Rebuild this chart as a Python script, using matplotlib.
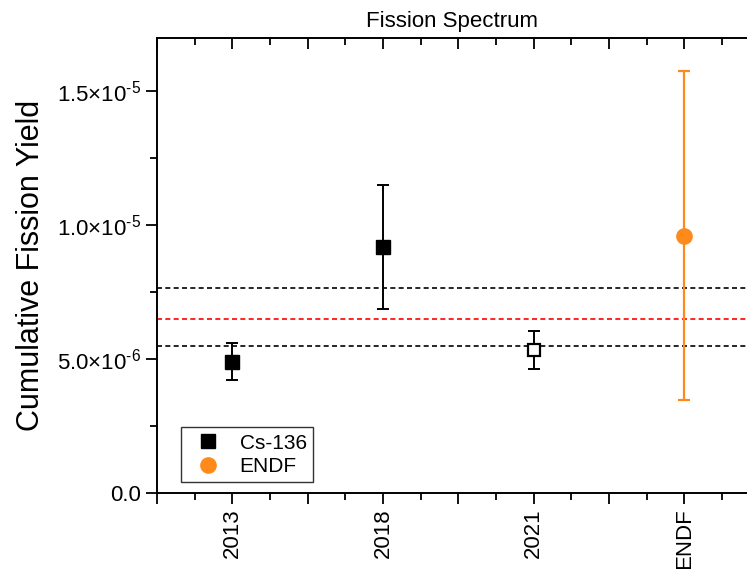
import matplotlib
matplotlib.use("Agg")
import matplotlib.pyplot as plt
from matplotlib.ticker import FuncFormatter, MultipleLocator, FixedLocator

plt.rcParams["font.family"] = ["Liberation Sans", "DejaVu Sans"]
plt.rcParams["mathtext.fontset"] = "custom"
plt.rcParams["mathtext.rm"] = "Liberation Sans"
plt.rcParams["mathtext.it"] = "Liberation Sans:italic"

labels = ["2013", "2018", "2021", "ENDF"]
cs_pos = [1, 2]
cs_vals = [4.90e-6, 9.19e-6]
cs_err = [0.685e-6, 2.32e-6]
open_pos = [3]
open_vals = [5.34e-6]
open_err = [0.705e-6]
endf_pos = [4]
endf_vals = [9.61e-6]
endf_err = [6.15e-6]
mean_line = 6.48e-6
upper_line = 7.65e-6
lower_line = 5.47e-6

orange = "#ff8a1c"

fig = plt.figure(figsize=(7.47, 5.69), dpi=100)
ax = fig.add_axes([0.2102, 0.1344, 0.7885, 0.7988])

dash = (0, (3, 2))
ax.axhline(upper_line, color="black", lw=1.2, ls=dash, zorder=1)
ax.axhline(mean_line, color="red", lw=1.2, ls=dash, zorder=1)
ax.axhline(lower_line, color="black", lw=1.2, ls=dash, zorder=1)

ax.errorbar(cs_pos, cs_vals, yerr=cs_err, fmt="none", ecolor="black",
            elinewidth=1.4, capsize=4.5, capthick=1.4, zorder=2)
ax.plot(cs_pos, cs_vals, "s", ms=10, color="black", label="Cs-136", zorder=3)
ax.errorbar(open_pos, open_vals, yerr=open_err, fmt="none", ecolor="black",
            elinewidth=1.4, capsize=4.5, capthick=1.4, zorder=2)
ax.plot(open_pos, open_vals, "s", ms=8.5, mfc="white", mec="black", mew=1.6,
        zorder=3)
ax.errorbar(endf_pos, endf_vals, yerr=endf_err, fmt="none", ecolor=orange,
            elinewidth=1.6, capsize=4.5, capthick=1.6, zorder=2)
ax.plot(endf_pos, endf_vals, "o", ms=11, color=orange, label="ENDF", zorder=3)

ax.set_xlim(0.5, 4.41)
ax.set_ylim(0, 1.7e-5)

ax.xaxis.set_major_locator(FixedLocator([0.5, 1, 1.5, 2, 2.5, 3, 3.5, 4]))
ax.xaxis.set_minor_locator(MultipleLocator(0.25))
ax.xaxis.set_major_formatter(FuncFormatter(
    lambda v, p: labels[int(round(v)) - 1] if abs(v - round(v)) < 1e-6 and 1 <= round(v) <= 4 else ""))
ax.yaxis.set_major_locator(MultipleLocator(5e-6))
ax.yaxis.set_minor_locator(MultipleLocator(2.5e-6))


def yfmt(v, p):
    if abs(v) < 1e-12:
        return "0.0"
    exp = 0
    m = v
    while abs(m) < 1:
        m *= 10
        exp -= 1
    return r"$%.1f{\times}10^{\text{-}%d}$" % (m, -exp)


ax.yaxis.set_major_formatter(FuncFormatter(yfmt))

ax.tick_params(axis="x", which="major", direction="out", length=8, width=1.3,
               labelsize=16, labelrotation=90, top=True)
ax.tick_params(axis="x", which="minor", direction="out", length=5, width=1.3, top=True)
ax.tick_params(axis="y", which="major", direction="out", length=8, width=1.3, labelsize=16)
ax.tick_params(axis="y", which="minor", direction="out", length=5, width=1.3)

# top ticks point inward
for t in ax.xaxis.get_major_ticks() + ax.xaxis.get_minor_ticks():
    t.tick2line.set_marker(3)

for side in ["left", "bottom", "top"]:
    ax.spines[side].set_linewidth(1.4)
ax.spines["right"].set_visible(False)

ax.set_ylabel("Cumulative Fission Yield", fontsize=22, labelpad=8)
ax.set_title("Fission Spectrum", fontsize=16, pad=8)

leg = ax.legend(loc="lower left", bbox_to_anchor=(0.041, 0.023), fontsize=15,
                frameon=True, fancybox=False, edgecolor="black",
                borderaxespad=0, handletextpad=0.5, borderpad=0.3,
                labelspacing=0.2, handlelength=2.0)
leg.get_frame().set_linewidth(1.0)

fig.savefig("out.png", dpi=100)
